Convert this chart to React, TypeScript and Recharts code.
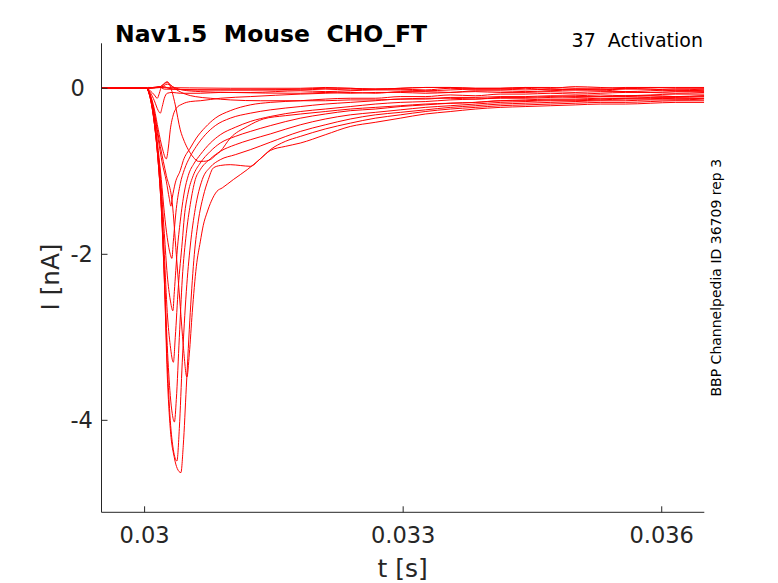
import React from "react";
import { LineChart, Line, XAxis, YAxis } from "recharts";

// traces: head = [t (s), I (nA)] up to the decay,
// tail = I (nA) at the shared tail times
const start: [number, number][] = [
  [0.0295, 0],
  [0.03002, 0],
];

const tailT = [
  0.031806, 0.032096, 0.032386, 0.032676, 0.032966, 0.033256, 0.033546, 0.033836,
  0.034126, 0.034416, 0.034706, 0.034996, 0.035286, 0.035577, 0.035866, 0.036157,
  0.036492,
];

const z1Head: [number, number][] = [[0.030043, 0.01], [0.030994, 0]];
const z1Tail = [0, 0.01, 0, -0.01, 0, 0.01, 0.01, 0, 0, 0.01, 0, 0.02, 0.01, 0, 0.01, 0.01, 0.01];

const z2Head: [number, number][] = [[0.030171, 0.02], [0.030229, -0.01], [0.030994, -0.02]];
const z2Tail = [-0.02, -0.01, -0.02, -0.01, -0.01, -0.02, 0, -0.01, -0.01, 0, -0.02, -0.01, -0.02, 0, -0.01, -0.02, -0.01];

const l3Head: [number, number][] = [
  [0.030182, 0.01], [0.030263, 0.05], [0.030345, 0.01], [0.030437, -0.02],
  [0.030646, -0.04], [0.030994, -0.05],
];
const l3Tail = [-0.06, -0.05, -0.06, -0.05, -0.05, -0.06, -0.05, -0.04, -0.05, -0.05, -0.04, -0.05, -0.04, -0.04, -0.05, -0.04, -0.04];

const l2Head: [number, number][] = [
  [0.030182, 0.02], [0.030263, 0.07], [0.030321, 0.02], [0.030391, -0.03],
  [0.030472, -0.07], [0.030588, -0.1], [0.030762, -0.12], [0.030994, -0.14],
  [0.031342, -0.15],
];
const l2Tail = [-0.15, -0.15, -0.14, -0.14, -0.13, -0.12, -0.12, -0.13, -0.11, -0.11, -0.1, -0.11, -0.1, -0.09, -0.09, -0.1, -0.09];

const l1Head: [number, number][] = [
  [0.030182, 0.02], [0.030229, 0.06], [0.030263, 0.08], [0.030287, 0.05],
  [0.030318, -0.04], [0.030356, -0.2], [0.030414, -0.5], [0.030461, -0.64],
  [0.030507, -0.74], [0.030565, -0.83], [0.030623, -0.88], [0.030681, -0.88],
  [0.030762, -0.86], [0.03082, -0.81], [0.030878, -0.76], [0.030994, -0.6],
  [0.031191, -0.46], [0.031377, -0.37], [0.031632, -0.33],
];
const l1Tail = [-0.31, -0.28, -0.25, -0.23, -0.21, -0.19, -0.18, -0.17, -0.15, -0.15, -0.14, -0.14, -0.13, -0.12, -0.12, -0.13, -0.12];

const h1Head: [number, number][] = [
  [0.030066, -0.03], [0.030113, -0.08], [0.030147, -0.12], [0.030171, -0.06],
  [0.030194, 0.01], [0.030229, 0.02], [0.030275, 0], [0.030356, -0.01],
  [0.03053, -0.02], [0.030878, -0.02], [0.031226, -0.02],
];
const h1Tail = [-0.01, 0, 0, -0.01, 0, 0.01, 0.01, 0, 0, 0.01, 0.01, 0, 0, 0.01, 0.01, 0, 0];

const h2Head: [number, number][] = [
  [0.030066, -0.05], [0.030113, -0.15], [0.030159, -0.27], [0.030182, -0.3],
  [0.030205, -0.22], [0.030229, -0.12], [0.030263, -0.06], [0.030321, -0.05],
  [0.030414, -0.06], [0.030646, -0.06], [0.030878, -0.05], [0.031226, -0.05],
];
const h2Tail = [-0.03, -0.04, -0.03, -0.02, -0.02, -0.03, -0.02, -0.01, -0.01, -0.02, -0.01, -0.02, -0.02, -0.01, -0.01, -0.03, -0.02];

const h3Head: [number, number][] = [
  [0.030066, -0.08], [0.030113, -0.25], [0.030159, -0.5], [0.030205, -0.72],
  [0.030252, -0.85], [0.030275, -0.72], [0.030298, -0.5], [0.030333, -0.32],
  [0.030368, -0.24], [0.030437, -0.19], [0.03053, -0.16], [0.030646, -0.15],
  [0.030878, -0.12], [0.031226, -0.1],
];
const h3Tail = [-0.07, -0.06, -0.05, -0.06, -0.04, -0.04, -0.05, -0.03, -0.03, -0.04, -0.03, -0.02, -0.02, -0.04, -0.03, -0.02, -0.03];

const h4Head: [number, number][] = [
  [0.030066, -0.08], [0.030113, -0.3], [0.030159, -0.62], [0.030205, -0.9],
  [0.030252, -1.12], [0.030287, -1.33], [0.030305, -1.42], [0.030321, -1.32],
  [0.030356, -1.14], [0.030414, -0.99], [0.030449, -0.87], [0.03053, -0.72],
  [0.0306, -0.6], [0.030704, -0.47], [0.03082, -0.36], [0.030994, -0.27],
  [0.031226, -0.2], [0.031458, -0.17],
];
const h4Tail = [-0.15, -0.13, -0.12, -0.12, -0.1, -0.1, -0.08, -0.09, -0.07, -0.07, -0.06, -0.07, -0.06, -0.05, -0.05, -0.06, -0.05];

const h5Head: [number, number][] = [
  [0.030066, -0.1], [0.030113, -0.35], [0.030159, -0.75], [0.030194, -1.1],
  [0.030229, -1.5], [0.030263, -1.8], [0.030298, -2.0], [0.030317, -2.05],
  [0.030333, -1.85], [0.030368, -1.45], [0.030414, -1.15], [0.030461, -0.98],
  [0.03053, -0.82], [0.0306, -0.7], [0.030704, -0.56], [0.03082, -0.45],
  [0.030994, -0.36], [0.031226, -0.3], [0.031458, -0.26],
];
const h5Tail = [-0.22, -0.19, -0.17, -0.15, -0.13, -0.13, -0.11, -0.11, -0.1, -0.1, -0.09, -0.09, -0.08, -0.09, -0.08, -0.07, -0.07];

const h6Head: [number, number][] = [
  [0.030066, -0.1], [0.030113, -0.38], [0.030159, -0.8], [0.030194, -1.2],
  [0.030229, -1.75], [0.030263, -2.25], [0.030298, -2.55], [0.030328, -2.68],
  [0.030345, -2.45], [0.030379, -1.95], [0.030414, -1.6], [0.030461, -1.25],
  [0.030507, -1.05], [0.030577, -0.9], [0.030646, -0.8], [0.030762, -0.66],
  [0.030878, -0.56], [0.031052, -0.47], [0.031226, -0.4], [0.031458, -0.34],
];
const h6Tail = [-0.28, -0.25, -0.22, -0.19, -0.17, -0.16, -0.14, -0.13, -0.12, -0.12, -0.11, -0.1, -0.1, -0.1, -0.09, -0.1, -0.09];

const h7Head: [number, number][] = [
  [0.030066, -0.1], [0.030113, -0.4], [0.030159, -0.85], [0.030194, -1.3],
  [0.030229, -2.0], [0.030263, -2.7], [0.030298, -3.1], [0.030334, -3.3],
  [0.030356, -3.0], [0.030391, -2.4], [0.030437, -1.85], [0.030461, -1.55],
  [0.030507, -1.25], [0.030565, -1.05], [0.030646, -0.9], [0.030762, -0.76],
  [0.030878, -0.66], [0.031052, -0.58], [0.031226, -0.52], [0.031458, -0.45],
];
const h7Tail = [-0.36, -0.31, -0.27, -0.25, -0.22, -0.2, -0.18, -0.17, -0.15, -0.14, -0.13, -0.13, -0.12, -0.12, -0.11, -0.11, -0.1];

const h8Head: [number, number][] = [
  [0.030066, -0.12], [0.030113, -0.42], [0.030159, -0.9], [0.030194, -1.4],
  [0.030229, -2.2], [0.030263, -3.1], [0.030298, -3.7], [0.030321, -3.92],
  [0.030346, -4.02], [0.030368, -3.75], [0.030403, -3.0], [0.030437, -2.3],
  [0.030484, -1.75], [0.03053, -1.4], [0.030588, -1.1], [0.030646, -0.98],
  [0.030762, -0.85], [0.030878, -0.76], [0.031052, -0.68], [0.031226, -0.62],
  [0.031458, -0.55],
];
const h8Tail = [-0.44, -0.37, -0.32, -0.29, -0.26, -0.23, -0.21, -0.19, -0.17, -0.16, -0.15, -0.15, -0.14, -0.13, -0.13, -0.12, -0.12];

const h9Head: [number, number][] = [
  [0.030066, -0.12], [0.030113, -0.42], [0.030159, -0.9], [0.030194, -1.45],
  [0.030229, -2.3], [0.030263, -3.3], [0.030298, -4.0], [0.030333, -4.35],
  [0.030375, -4.49], [0.030403, -4.1], [0.030437, -3.3], [0.030484, -2.45],
  [0.03053, -1.9], [0.030588, -1.45], [0.030669, -1.1], [0.030762, -0.95],
  [0.030878, -0.86], [0.031052, -0.8], [0.031226, -0.74], [0.031458, -0.65],
];
const h9Tail = [-0.52, -0.44, -0.37, -0.32, -0.29, -0.26, -0.23, -0.21, -0.19, -0.18, -0.17, -0.16, -0.15, -0.15, -0.14, -0.14, -0.13];

const h10Head: [number, number][] = [
  [0.030066, -0.12], [0.030113, -0.42], [0.030159, -0.9], [0.030194, -1.45],
  [0.030229, -2.3], [0.030263, -3.45], [0.030298, -4.1], [0.030345, -4.45],
  [0.030379, -4.58], [0.030421, -4.63], [0.030449, -4.3], [0.030484, -3.6],
  [0.03053, -2.7], [0.030577, -2.0], [0.030623, -1.6], [0.030681, -1.3],
  [0.030739, -1.1], [0.030797, -0.96], [0.030878, -0.93], [0.030994, -0.92],
  [0.03111, -0.93], [0.031226, -0.94], [0.031342, -0.85], [0.031458, -0.74],
  [0.031632, -0.64],
];
const h10Tail = [-0.58, -0.49, -0.42, -0.36, -0.32, -0.28, -0.25, -0.23, -0.21, -0.2, -0.19, -0.18, -0.17, -0.17, -0.16, -0.15, -0.15];

const h11Head: [number, number][] = [
  [0.030066, -0.1], [0.030113, -0.3], [0.030182, -0.7], [0.030252, -1.05],
  [0.030321, -1.38], [0.030368, -2.0], [0.030414, -2.63], [0.030449, -3.1],
  [0.030491, -3.48], [0.030519, -3.2], [0.030553, -2.7], [0.0306, -2.15],
  [0.030646, -1.85], [0.030681, -1.65], [0.030727, -1.49], [0.030774, -1.36],
  [0.03084, -1.24], [0.030901, -1.2], [0.031029, -1.1], [0.031191, -0.98],
  [0.031342, -0.85], [0.031458, -0.75], [0.031632, -0.7],
];
const h11Tail = [-0.66, -0.56, -0.46, -0.41, -0.36, -0.31, -0.28, -0.25, -0.23, -0.22, -0.21, -0.2, -0.19, -0.19, -0.18, -0.17, -0.17];

const traceParts: [[number, number][], number[]][] = [
  [z1Head, z1Tail], [z2Head, z2Tail], [l3Head, l3Tail], [l2Head, l2Tail],
  [l1Head, l1Tail], [h1Head, h1Tail], [h2Head, h2Tail], [h3Head, h3Tail],
  [h4Head, h4Tail], [h5Head, h5Tail], [h6Head, h6Tail], [h7Head, h7Tail],
  [h8Head, h8Tail], [h9Head, h9Tail], [h10Head, h10Tail], [h11Head, h11Tail],
];

const traces = traceParts.map(([head, tail]) => [
  ...start.map(([t, i]) => ({ t, i })),
  ...head.map(([t, i]) => ({ t, i })),
  ...tail.map((i, k) => ({ t: tailT[k], i })),
]);

const xTicks = [0.03, 0.033, 0.036];
const yTicks = [-4, -2, 0];

const axisColor = "#262626";
const font = "DejaVu Sans, sans-serif";

function XTick(props: any) {
  return (
    <text
      x={props.x}
      y={542.7}
      textAnchor="middle"
      fill={axisColor}
      fontSize={22.5}
      fontFamily={font}
    >
      {props.payload.value}
    </text>
  );
}

function YTick(props: any) {
  return (
    <text
      x={70.4}
      y={props.y}
      dy="0.36em"
      textAnchor="start"
      fill={axisColor}
      fontSize={22.5}
      fontFamily={font}
    >
      {props.payload.value}
    </text>
  );
}

export default function App() {
  return (
    <div
      style={{
        position: "absolute",
        left: 0,
        top: 0,
        width: 778,
        height: 583,
        background: "#fff",
      }}
    >
      <LineChart
        width={778}
        height={583}
        margin={{ top: 43.3, right: 73.7, bottom: 30.7, left: 41.5 }}
      >
        <XAxis
          type="number"
          dataKey="t"
          domain={[0.0295, 0.036494]}
          ticks={xTicks}
          allowDataOverflow
          height={40}
          tickSize={-6}
          stroke={axisColor}
          tick={<XTick />}
        />
        <YAxis
          type="number"
          dataKey="i"
          domain={[-5.108, 0.542]}
          ticks={yTicks}
          allowDataOverflow
          width={60}
          tickSize={-6}
          stroke={axisColor}
          tick={<YTick />}
        />
        {traces.map((tr, k) => (
          <Line
            key={k}
            data={tr}
            dataKey="i"
            type="monotone"
            stroke="#ff0000"
            strokeWidth={1}
            dot={false}
            activeDot={false}
            isAnimationActive={false}
          />
        ))}
      </LineChart>
      <svg
        width={778}
        height={583}
        style={{ position: "absolute", left: 0, top: 0, pointerEvents: "none" }}
      >
        <text
          x={115}
          y={42}
          fontSize={23.5}
          fontWeight="bold"
          fontFamily={font}
          fill="#000"
          style={{ whiteSpace: "pre" }}
        >
          {"Nav1.5  Mouse  CHO_FT"}
        </text>
        <text
          x={703}
          y={47.3}
          fontSize={19}
          fontFamily={font}
          textAnchor="end"
          fill="#000"
          style={{ whiteSpace: "pre" }}
        >
          {"37  Activation"}
        </text>
        <text
          x={721.5}
          y={277.7}
          fontSize={14}
          fontFamily={font}
          textAnchor="middle"
          fill="#000"
          transform="rotate(-90, 721.5, 277.7)"
        >
          BBP Channelpedia ID 36709 rep 3
        </text>
        <text
          x={58.6}
          y={277}
          fontSize={24.7}
          fontFamily={font}
          textAnchor="middle"
          fill={axisColor}
          transform="rotate(-90, 58.6, 277)"
        >
          I [nA]
        </text>
        <text
          x={402.7}
          y={576.6}
          fontSize={25}
          fontFamily={font}
          textAnchor="middle"
          fill={axisColor}
        >
          t [s]
        </text>
      </svg>
    </div>
  );
}
